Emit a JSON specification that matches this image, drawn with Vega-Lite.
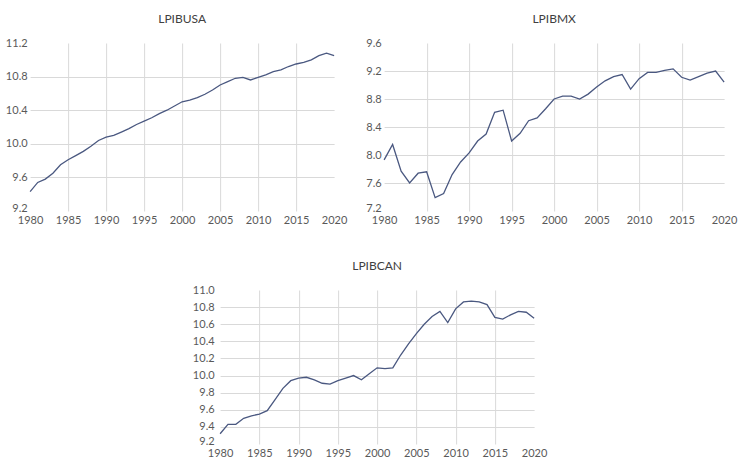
{
  "$schema": "https://vega.github.io/schema/vega-lite/v6.json",
  "padding": {"left": 5, "top": 13, "right": 3, "bottom": 0},
  "background": "white",
  "datasets": {
    "usa": [
      {"year": 1980, "value": 9.43}, {"year": 1981, "value": 9.54}, {"year": 1982, "value": 9.58}, {"year": 1983, "value": 9.65},
      {"year": 1984, "value": 9.75}, {"year": 1985, "value": 9.81}, {"year": 1986, "value": 9.86}, {"year": 1987, "value": 9.91},
      {"year": 1988, "value": 9.97}, {"year": 1989, "value": 10.04}, {"year": 1990, "value": 10.08}, {"year": 1991, "value": 10.10},
      {"year": 1992, "value": 10.14}, {"year": 1993, "value": 10.18}, {"year": 1994, "value": 10.23}, {"year": 1995, "value": 10.27},
      {"year": 1996, "value": 10.31}, {"year": 1997, "value": 10.36}, {"year": 1998, "value": 10.40}, {"year": 1999, "value": 10.45},
      {"year": 2000, "value": 10.50}, {"year": 2001, "value": 10.52}, {"year": 2002, "value": 10.55}, {"year": 2003, "value": 10.59},
      {"year": 2004, "value": 10.64}, {"year": 2005, "value": 10.70}, {"year": 2006, "value": 10.74}, {"year": 2007, "value": 10.78},
      {"year": 2008, "value": 10.79}, {"year": 2009, "value": 10.76}, {"year": 2010, "value": 10.79}, {"year": 2011, "value": 10.82},
      {"year": 2012, "value": 10.86}, {"year": 2013, "value": 10.88}, {"year": 2014, "value": 10.92}, {"year": 2015, "value": 10.95},
      {"year": 2016, "value": 10.97}, {"year": 2017, "value": 11.00}, {"year": 2018, "value": 11.05}, {"year": 2019, "value": 11.08},
      {"year": 2020, "value": 11.05}
    ],
    "mx": [
      {"year": 1980, "value": 7.93}, {"year": 1981, "value": 8.15}, {"year": 1982, "value": 7.77}, {"year": 1983, "value": 7.60},
      {"year": 1984, "value": 7.74}, {"year": 1985, "value": 7.76}, {"year": 1986, "value": 7.39}, {"year": 1987, "value": 7.45},
      {"year": 1988, "value": 7.72}, {"year": 1989, "value": 7.90}, {"year": 1990, "value": 8.03}, {"year": 1991, "value": 8.20},
      {"year": 1992, "value": 8.30}, {"year": 1993, "value": 8.61}, {"year": 1994, "value": 8.64}, {"year": 1995, "value": 8.20},
      {"year": 1996, "value": 8.31}, {"year": 1997, "value": 8.49}, {"year": 1998, "value": 8.53}, {"year": 1999, "value": 8.66},
      {"year": 2000, "value": 8.80}, {"year": 2001, "value": 8.84}, {"year": 2002, "value": 8.84}, {"year": 2003, "value": 8.80},
      {"year": 2004, "value": 8.87}, {"year": 2005, "value": 8.97}, {"year": 2006, "value": 9.06}, {"year": 2007, "value": 9.12},
      {"year": 2008, "value": 9.15}, {"year": 2009, "value": 8.94}, {"year": 2010, "value": 9.09}, {"year": 2011, "value": 9.18},
      {"year": 2012, "value": 9.18}, {"year": 2013, "value": 9.21}, {"year": 2014, "value": 9.23}, {"year": 2015, "value": 9.11},
      {"year": 2016, "value": 9.07}, {"year": 2017, "value": 9.12}, {"year": 2018, "value": 9.17}, {"year": 2019, "value": 9.20},
      {"year": 2020, "value": 9.04}
    ],
    "can": [
      {"year": 1980, "value": 9.32}, {"year": 1981, "value": 9.43}, {"year": 1982, "value": 9.43}, {"year": 1983, "value": 9.50},
      {"year": 1984, "value": 9.53}, {"year": 1985, "value": 9.55}, {"year": 1986, "value": 9.59}, {"year": 1987, "value": 9.72},
      {"year": 1988, "value": 9.85}, {"year": 1989, "value": 9.94}, {"year": 1990, "value": 9.97}, {"year": 1991, "value": 9.98},
      {"year": 1992, "value": 9.95}, {"year": 1993, "value": 9.91}, {"year": 1994, "value": 9.90}, {"year": 1995, "value": 9.94},
      {"year": 1996, "value": 9.97}, {"year": 1997, "value": 10.00}, {"year": 1998, "value": 9.95}, {"year": 1999, "value": 10.02},
      {"year": 2000, "value": 10.09}, {"year": 2001, "value": 10.08}, {"year": 2002, "value": 10.09}, {"year": 2003, "value": 10.24},
      {"year": 2004, "value": 10.37}, {"year": 2005, "value": 10.49}, {"year": 2006, "value": 10.60}, {"year": 2007, "value": 10.69},
      {"year": 2008, "value": 10.75}, {"year": 2009, "value": 10.62}, {"year": 2010, "value": 10.78}, {"year": 2011, "value": 10.86},
      {"year": 2012, "value": 10.87}, {"year": 2013, "value": 10.86}, {"year": 2014, "value": 10.83}, {"year": 2015, "value": 10.68},
      {"year": 2016, "value": 10.66}, {"year": 2017, "value": 10.71}, {"year": 2018, "value": 10.75}, {"year": 2019, "value": 10.74},
      {"year": 2020, "value": 10.67}
    ]
  },
  "config": {
    "view": {"stroke": null},
    "font": "Lato",
    "axis": {
      "labelFont": "Lato",
      "labelFontSize": 11,
      "labelColor": "#595959",
      "domain": false,
      "ticks": false,
      "labelOverlap": false,
      "labelFlush": false,
      "gridColor": "#d9d9d9",
      "gridWidth": 1
    },
    "axisX": {"labelPadding": 3},
    "axisY": {"labelPadding": 3},
    "title": {"font": "Lato", "fontSize": 12, "fontWeight": "normal", "color": "#404040", "offset": 11},
    "line": {"color": "#4a5880", "strokeWidth": 1.3}
  },
  "center": true,
  "spacing": 35,
  "vconcat": [
    {
      "spacing": 18,
      "hconcat": [
        {
          "title": "LPIBUSA",
          "width": 304,
          "height": 168,
          "data": {"name": "usa"},
          "mark": "line",
          "encoding": {
            "x": {"field": "year", "type": "quantitative", "title": null,
              "scale": {"domain": [1980, 2020], "nice": false, "zero": false},
              "axis": {"values": [1980, 1985, 1990, 1995, 2000, 2005, 2010, 2015, 2020], "format": "d",
                "gridOpacity": {"condition": {"test": "datum.value == 1980 || datum.value == 2020", "value": 0}, "value": 1}}},
            "y": {"field": "value", "type": "quantitative", "title": null,
              "scale": {"domain": [9.2, 11.2], "nice": false, "zero": false},
              "axis": {"values": [9.2, 9.6, 10.0, 10.4, 10.8, 11.2], "format": ".1f",
                "labelOffset": {"condition": {"test": "datum.value < 9.3", "value": -3}, "value": 0},
                "gridOpacity": {"condition": {"test": "datum.value < 9.3 || datum.value > 11.1", "value": 0}, "value": 1}}}
          }
        },
        {
          "title": "LPIBMX",
          "width": 340,
          "height": 168,
          "data": {"name": "mx"},
          "mark": "line",
          "encoding": {
            "x": {"field": "year", "type": "quantitative", "title": null,
              "scale": {"domain": [1980, 2020], "nice": false, "zero": false},
              "axis": {"values": [1980, 1985, 1990, 1995, 2000, 2005, 2010, 2015, 2020], "format": "d",
                "gridOpacity": {"condition": {"test": "datum.value == 1980 || datum.value == 2020", "value": 0}, "value": 1}}},
            "y": {"field": "value", "type": "quantitative", "title": null,
              "scale": {"domain": [7.2, 9.6], "nice": false, "zero": false},
              "axis": {"values": [7.2, 7.6, 8.0, 8.4, 8.8, 9.2, 9.6], "format": ".1f",
                "labelOffset": {"condition": {"test": "datum.value < 7.3", "value": -3}, "value": 0},
                "gridOpacity": {"condition": {"test": "datum.value < 7.3 || datum.value > 9.5", "value": 0}, "value": 1}}}
          }
        }
      ]
    },
    {
      "title": "LPIBCAN",
      "width": 314,
      "height": 154,
      "data": {"name": "can"},
      "mark": "line",
      "encoding": {
        "x": {"field": "year", "type": "quantitative", "title": null,
          "scale": {"domain": [1980, 2020], "nice": false, "zero": false},
          "axis": {"values": [1980, 1985, 1990, 1995, 2000, 2005, 2010, 2015, 2020], "format": "d",
            "gridOpacity": {"condition": {"test": "datum.value == 1980 || datum.value == 2020", "value": 0}, "value": 1}}},
        "y": {"field": "value", "type": "quantitative", "title": null,
          "scale": {"domain": [9.2, 11.0], "nice": false, "zero": false},
          "axis": {"values": [9.2, 9.4, 9.6, 9.8, 10.0, 10.2, 10.4, 10.6, 10.8, 11.0], "format": ".1f",
            "labelPadding": 6,
            "labelOffset": {"condition": {"test": "datum.value < 9.3", "value": -3}, "value": 0},
            "gridOpacity": {"condition": {"test": "datum.value < 9.3 || datum.value > 10.9", "value": 0}, "value": 1}}}
      }
    }
  ]
}
